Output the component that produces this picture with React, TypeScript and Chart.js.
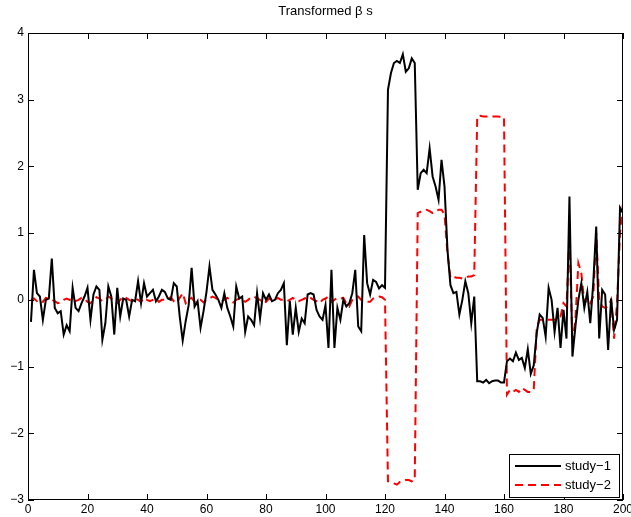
import { useEffect, useRef } from 'react';
import { Chart, registerables } from 'chart.js';

Chart.register(...registerables);

const titleText = 'Transformed \u03B2 s';
const legendLabels = ['study\u22121', 'study\u22122'];
const xTicks = [0, 20, 40, 60, 80, 100, 120, 140, 160, 180, 200];
const yTicks = [-3, -2, -1, 0, 1, 2, 3, 4];

// study-1 (black solid), x = 1..200
const study1 = [
  -0.33, 0.45, 0.1, 0.05, -0.3, 0.0, 0.02, 0.62, -0.12, -0.2,
  -0.17, -0.52, -0.38, -0.47, 0.18, -0.12, -0.17, -0.05, 0.05, 0.18,
  -0.3, 0.08, 0.2, 0.15, -0.6, -0.35, 0.2, 0.05, -0.52, 0.18,
  -0.25, 0.02, 0.0, -0.25, 0.0, -0.02, 0.28, -0.05, 0.25, 0.05,
  0.1, 0.15, -0.02, 0.05, 0.15, 0.12, 0.02, 0.0, 0.25, 0.2,
  -0.25, -0.61, -0.32, -0.08, 0.48, -0.1, -0.02, -0.42, -0.17, 0.12,
  0.5, 0.15, 0.08, 0.0, -0.12, 0.1, -0.12, -0.25, -0.4, 0.2,
  0.02, 0.05, -0.48, -0.25, -0.3, -0.38, 0.1, -0.28, 0.1, 0.0,
  0.08, -0.02, 0.0, 0.1, 0.15, 0.25, -0.68, -0.02, -0.52, -0.12,
  -0.48, -0.28, -0.35, 0.08, 0.1, 0.08, -0.15, -0.25, -0.3, -0.08,
  -0.72, 0.45, -0.72, -0.12, -0.3, 0.0, -0.1, -0.05, 0.1, 0.45,
  -0.4, -0.47, 0.97, 0.25, 0.08, 0.3, 0.27, 0.17, 0.22, 0.18,
  3.15, 3.4, 3.55, 3.58, 3.55, 3.68, 3.42, 3.47, 3.62, 3.55,
  1.65, 1.9, 1.95, 1.9, 2.27, 1.85, 1.7, 1.5, 2.1, 1.7,
  0.75, 0.22, 0.1, 0.12, -0.22, 0.0, 0.28, 0.1, -0.35, 0.05,
  -1.22, -1.22, -1.24, -1.2, -1.25, -1.22, -1.21, -1.21, -1.24, -1.24,
  -0.92, -0.88, -0.92, -0.79, -0.9, -0.87, -1.02, -0.74, -1.11, -0.98,
  -0.5, -0.22, -0.27, -0.55, 0.18, 0.0, -0.48, -0.12, -0.72, -0.15,
  -0.58, 1.55, -0.85, -0.4, 0.0, 0.25, -0.12, 0.12, -0.35, 0.25,
  1.1, -0.58, 0.15, 0.08, -0.75, 0.02, -0.45, -0.3, 1.38, 1.3,
];

// study-2 (red dashed), x = 1..200
const study2 = [
  0.0, 0.02, -0.02, 0.0, -0.03, 0.03, 0.02, 0.0, -0.02, -0.05,
  -0.04, 0.0, 0.02, 0.0, 0.02, -0.02, 0.0, 0.03, 0.02, -0.03,
  -0.05, 0.0, 0.04, 0.02, -0.02, 0.0, 0.05, 0.02, -0.03, -0.05,
  0.0, 0.05, 0.03, 0.0, -0.02, 0.02, 0.0, -0.03, 0.03, 0.0,
  -0.02, 0.0, 0.02, -0.03, 0.0, 0.0, 0.02, 0.04, -0.02, -0.05,
  0.03, 0.1, -0.05, 0.0, 0.03, -0.03, 0.0, 0.0, -0.04, 0.0,
  0.02, 0.05, 0.03, 0.0, -0.02, 0.0, 0.03, 0.0, -0.04, 0.0,
  0.02, 0.0, -0.03, 0.0, 0.04, 0.05, 0.02, 0.0, -0.05, -0.03,
  0.02, 0.0, 0.0, 0.03, 0.0, 0.0, -0.02, 0.0, 0.03, 0.0,
  -0.02, 0.0, 0.02, 0.05, 0.03, 0.0, -0.02, -0.05, 0.0, 0.02,
  0.05, -0.03, 0.0, 0.03, 0.02, 0.03, -0.05, -0.1, 0.0, 0.05,
  0.05, 0.0, -0.02, -0.03, -0.03, 0.02, 0.04, 0.05, 0.04, 0.0,
  -2.72, -2.73, -2.75, -2.77, -2.73, -2.72, -2.7, -2.7, -2.72, -2.7,
  1.3, 1.32, 1.33, 1.35, 1.33, 1.3, 1.32, 1.35, 1.35, 1.28,
  0.7, 0.33, 0.35, 0.33, 0.33, 0.32, 0.33, 0.35, 0.35, 0.37,
  2.75, 2.76, 2.75, 2.75, 2.74, 2.75, 2.75, 2.75, 2.74, 2.74,
  -1.42, -1.35, -1.38, -1.35, -1.38, -1.32, -1.35, -1.38, -1.38, -1.35,
  -0.42, -0.3, -0.3, -0.3, -0.3, -0.3, -0.3, -0.28, -0.25, -0.05,
  -0.1, 0.95, -0.65, -0.3, 0.55, 0.4, -0.05, 0.0, -0.05, 0.05,
  1.0, 0.0, -0.1, -0.12, -0.1, 0.0, -0.58, -0.05, 1.0, 1.45,
];

const FONT = "'Liberation Sans', Arial, Helvetica, sans-serif";
const RED_DASH = [8, 5];

const matlabPlugin = {
  id: 'matlabFrame',
  afterDraw(chart: any) {
    const { ctx, chartArea: a } = chart;
    const xs = chart.scales.x;
    const ys = chart.scales.y;
    ctx.save();
    ctx.strokeStyle = '#000';
    ctx.lineWidth = 1;
    ctx.setLineDash([]);
    ctx.strokeRect(Math.round(a.left) + 0.5, Math.round(a.top) + 0.5, Math.round(a.right - a.left) - 1, Math.round(a.bottom - a.top) - 1);
    const tl = 6;
    ctx.beginPath();
    xs.ticks.forEach((t: any) => {
      const px = Math.round(xs.getPixelForValue(t.value)) + 0.5;
      ctx.moveTo(px, a.bottom);
      ctx.lineTo(px, a.bottom - tl);
      ctx.moveTo(px, a.top);
      ctx.lineTo(px, a.top + tl);
    });
    ys.ticks.forEach((t: any) => {
      const py = Math.round(ys.getPixelForValue(t.value)) + 0.5;
      ctx.moveTo(a.left, py);
      ctx.lineTo(a.left + tl, py);
      ctx.moveTo(a.right, py);
      ctx.lineTo(a.right - tl, py);
    });
    ctx.stroke();

    // legend box (inside, bottom right)
    const bw = 110;
    const bh = 43;
    const bx = Math.round(a.right) - 4 - bw;
    const by = Math.round(a.bottom) - 3 - bh;
    ctx.fillStyle = '#fff';
    ctx.fillRect(bx, by, bw, bh);
    ctx.strokeStyle = '#000';
    ctx.lineWidth = 1;
    ctx.strokeRect(bx + 0.5, by + 0.5, bw, bh);
    ctx.font = `13px ${FONT}`;
    ctx.textBaseline = 'middle';
    ctx.textAlign = 'left';
    const rows = [
      { y: by + 12, color: '#000', dash: [] as number[] },
      { y: by + 31, color: '#ff0000', dash: RED_DASH },
    ];
    rows.forEach((r, i) => {
      ctx.beginPath();
      ctx.strokeStyle = r.color;
      ctx.lineWidth = 2;
      ctx.setLineDash(r.dash);
      ctx.moveTo(bx + 6, r.y);
      ctx.lineTo(bx + 52, r.y);
      ctx.stroke();
      ctx.setLineDash([]);
      ctx.fillStyle = '#000';
      ctx.fillText(legendLabels[i], bx + 56, r.y + 0.5);
    });
    ctx.restore();
  },
};

export default function App() {
  const ref = useRef<HTMLCanvasElement>(null);
  useEffect(() => {
    if (!ref.current) return;
    const xIdx = study1.map((_, i) => i + 1);
    const chart = new Chart(ref.current, {
      type: 'line',
      data: {
        datasets: [
          {
            label: legendLabels[0],
            data: xIdx.map((x, i) => ({ x, y: study1[i] })),
            borderColor: '#000000',
            borderWidth: 2,
            pointRadius: 0,
            tension: 0,
            fill: false,
          },
          {
            label: legendLabels[1],
            data: xIdx.map((x, i) => ({ x, y: study2[i] })),
            borderColor: '#ff0000',
            borderWidth: 2,
            borderDash: RED_DASH,
            pointRadius: 0,
            tension: 0,
            fill: false,
          },
        ],
      },
      options: {
        responsive: false,
        animation: false,
        devicePixelRatio: 1,
        layout: { padding: { top: 0, right: 8, bottom: 0, left: 0 } },
        plugins: {
          legend: { display: false },
          tooltip: { enabled: false },
          title: {
            display: true,
            text: titleText,
            fullSize: false,
            color: '#000',
            font: { family: FONT, size: 13, weight: 'normal', lineHeight: 1 },
            padding: { top: 5, bottom: 15 },
          },
        },
        scales: {
          x: {
            type: 'linear',
            min: 0,
            max: 200,
            grid: { display: false, drawTicks: false },
            border: { display: false },
            ticks: { color: '#000', padding: 2, maxRotation: 0, autoSkip: false, font: { family: FONT, size: 12 } },
            afterBuildTicks: (s: any) => { s.ticks = xTicks.map((v) => ({ value: v })); },
            afterFit: (s: any) => { s.height = 17; s.paddingLeft = 0; s.paddingRight = 0; },
          },
          y: {
            type: 'linear',
            min: -3,
            max: 4,
            grid: { display: false, drawTicks: false },
            border: { display: false },
            ticks: {
              color: '#000',
              padding: 4,
              autoSkip: false,
              font: { family: FONT, size: 12 },
              callback: (v: any) => (v < 0 ? '\u2212' + Math.abs(v) : String(v)),
            },
            afterBuildTicks: (s: any) => { s.ticks = yTicks.map((v) => ({ value: v })); },
            afterFit: (s: any) => { s.width = 28; s.paddingTop = 0; s.paddingBottom = 0; },
          },
        },
      },
      plugins: [matlabPlugin],
    } as any);
    return () => chart.destroy();
  }, []);
  return (
    <div style={{ position: 'fixed', left: 0, top: 0, width: 631, height: 517, background: '#fff' }}>
      <canvas ref={ref} width={631} height={517} style={{ display: 'block' }} />
    </div>
  );
}
